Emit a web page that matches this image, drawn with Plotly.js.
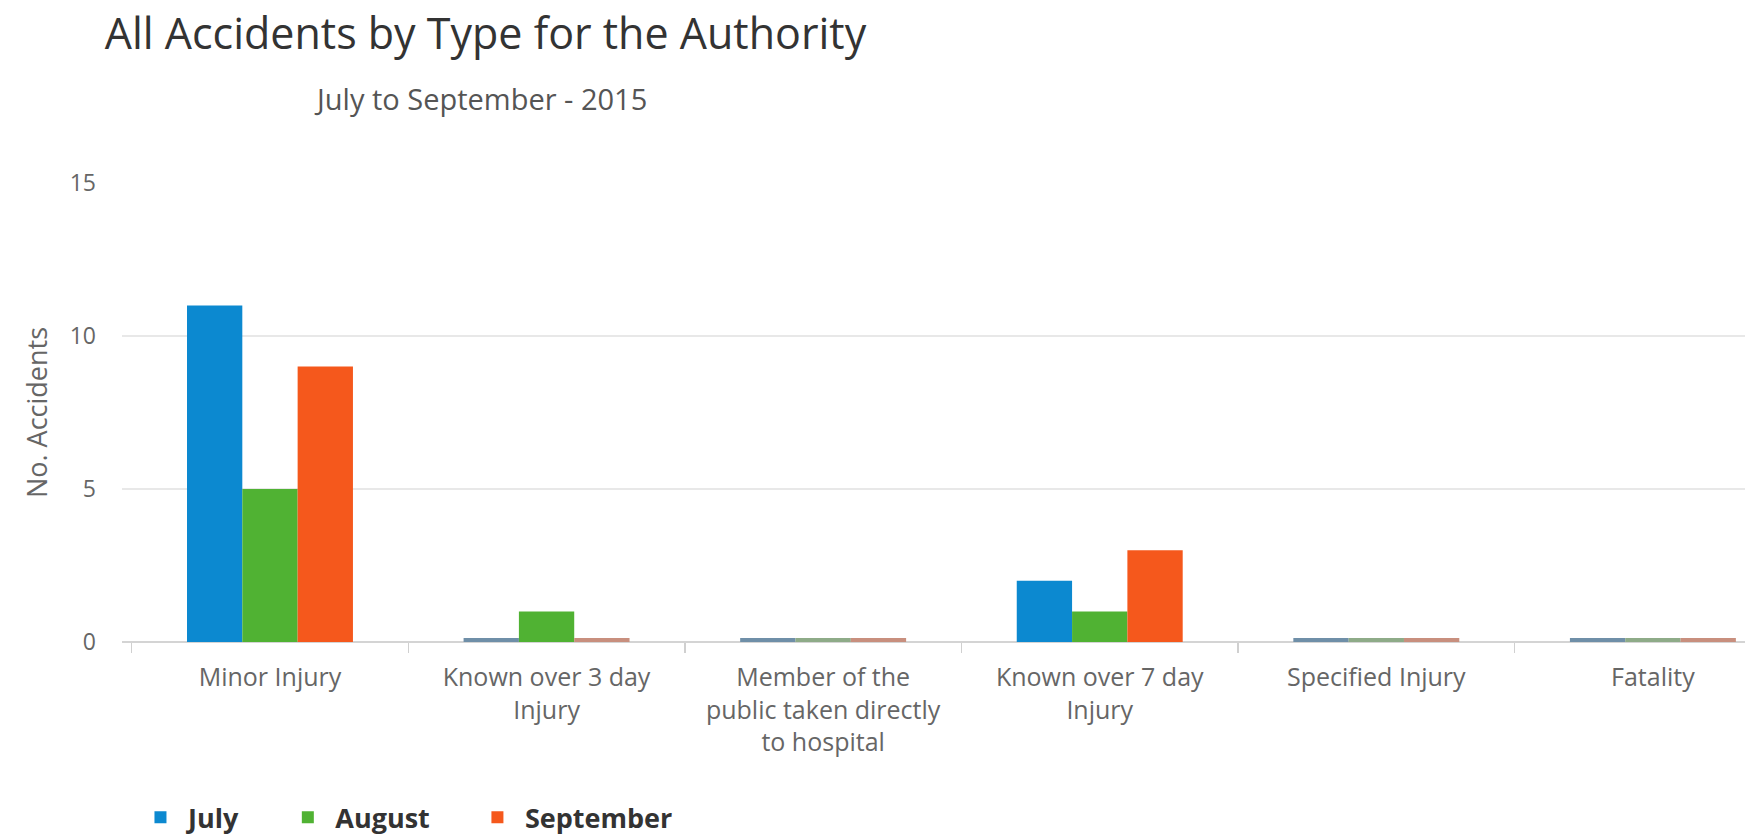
<!DOCTYPE html>
<html>
<head>
<meta charset="utf-8">
<script src="https://cdn.plot.ly/plotly-3.0.1.min.js"></script>
<style>
  html, body { margin: 0; padding: 0; background: #ffffff; }
  #chart { width: 1745px; height: 837px; }
</style>
</head>
<body>
<div id="chart"></div>
<script>
// ---- data ----
const categories = [
  'Minor Injury',
  'Known over 3 day<br>Injury',
  'Member of the<br>public taken directly<br>to hospital',
  'Known over 7 day<br>Injury',
  'Specified Injury',
  'Fatality'
];
const july      = [11, 0, 0, 2, 0, 0];
const august    = [5, 1, 0, 1, 0, 0];
const september = [9, 0, 0, 3, 0, 0];
const seriesNames = ['July', 'August', 'September'];
const yTicks = [0, 5, 10, 15];
const titleText = 'All Accidents by Type for the Authority';
const subtitleText = 'July to September - 2015';
const yTitle = 'No. Accidents';

// ---- styles ----
const FONT = '"Open Sans", "Noto Sans", sans-serif';
const colors = ['#0c89d0', '#50b233', '#f5581c'];
const stubColors = ['#6f8fa8', '#8eab88', '#c88f7e'];
const legendPad = '\u00a0'.repeat(5);   // extra spacing after each legend entry

function makeTrace(values, i) {
  return {
    type: 'bar',
    name: seriesNames[i] + legendPad,
    x: categories,
    y: values,
    marker: {
      color: colors[i],
      line: {
        // zero values shown as a thin stub (like a minimum point length)
        width: values.map(v => v === 0 ? 8 : 0),
        color: stubColors[i]
      }
    },
    hovertemplate: '%{x}<br>' + seriesNames[i] + ': %{y}<extra></extra>'
  };
}

const data = [july, august, september].map(makeTrace);

const layout = {
  width: 1745,
  height: 837,
  margin: { l: 122, r: 0, t: 183, b: 195, autoexpand: false },
  paper_bgcolor: '#ffffff',
  plot_bgcolor: '#ffffff',
  font: { family: FONT, color: '#666666' },
  barmode: 'group',
  bargap: 0.4,
  bargroupgap: 0,
  title: {
    text: titleText,
    font: { family: FONT, size: 43, color: '#333333' },
    xref: 'container', yref: 'container',
    x: 0.060, xanchor: 'left',
    y: 0.96, yanchor: 'middle'
  },
  annotations: [{
    text: subtitleText,
    xref: 'paper', yref: 'paper',
    x: 0.2206, y: 1.185,
    xanchor: 'center', yanchor: 'middle',
    showarrow: false,
    font: { family: FONT, size: 29, color: '#555555' }
  }],
  xaxis: {
    type: 'category',
    range: [-0.535, 5.333],
    tickson: 'boundaries',
    ticks: 'outside',
    ticklen: 10,
    tickwidth: 1.5,
    tickcolor: '#d0d0d0',
    ticklabelstandoff: 18,
    showgrid: false,
    showline: false,
    zeroline: false,
    tickfont: { family: FONT, size: 25, color: '#666666' },
    fixedrange: true
  },
  yaxis: {
    range: [0, 15],
    tickvals: yTicks,
    ticktext: yTicks.map(String),
    showgrid: true,
    gridcolor: '#e8e8e8',
    gridwidth: 2,
    zeroline: true,
    zerolinecolor: '#d4d4d4',
    zerolinewidth: 2,
    ticks: '',
    ticklabelstandoff: 25,
    tickfont: { family: FONT, size: 23, color: '#666666' },
    title: { text: yTitle, font: { family: FONT, size: 27, color: '#666666' }, standoff: 14 },
    fixedrange: true
  },
  showlegend: true,
  legend: {
    orientation: 'h',
    xref: 'container', yref: 'container',
    x: 0.0762, xanchor: 'left',
    y: 0.023, yanchor: 'middle',
    itemwidth: 45,
    font: { family: FONT, size: 27, color: '#333333', weight: 'bold' },
    traceorder: 'normal'
  }
};

Plotly.newPlot('chart', data, layout, { displayModeBar: false, staticPlot: true });
</script>
</body>
</html>
